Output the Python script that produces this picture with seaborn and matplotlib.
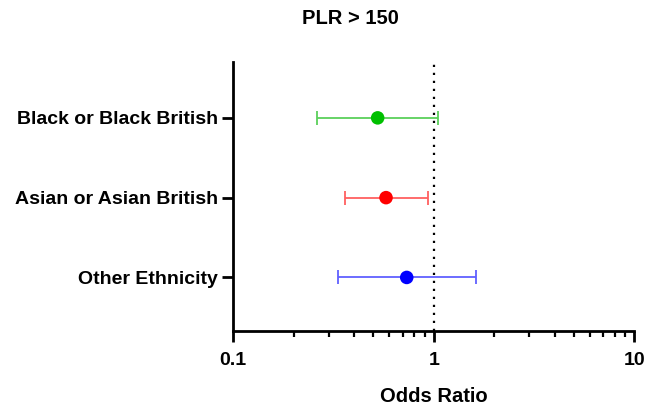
import matplotlib
matplotlib.use("Agg")
import matplotlib.pyplot as plt
import seaborn as sns
import pandas as pd
import numpy as np
from matplotlib.ticker import LogLocator, FixedLocator, NullFormatter

categories = ["Black or Black British", "Asian or Asian British", "Other Ethnicity"]
odds_ratio = [0.525, 0.578, 0.733]
ci_low = [0.262, 0.359, 0.333]
ci_high = [1.045, 0.933, 1.62]
point_colors = ["#00C000", "#FF0000", "#0000FF"]
bar_colors = ["#5BD05B", "#FF6060", "#6060FF"]
x_ticks = [0.1, 1, 10]
x_tick_labels = ["0.1", "1", "10"]

sns.set_theme(style="white")
plt.rcParams['font.family'] = ['Liberation Sans', 'DejaVu Sans']

df = pd.DataFrame({"cat": categories, "or": odds_ratio, "lo": ci_low, "hi": ci_high,
                   "pos": [2, 1, 0]})

fig = plt.figure(figsize=(6.46, 4.08), dpi=100)
ax = fig.add_axes([0.361, 0.189, 0.621, 0.659])

ax.axvline(1, color="black", linestyle=(0, (1, 2.6)), linewidth=1.6, zorder=1)

for i, row in df.iterrows():
    ax.errorbar(row["or"], row["pos"],
                xerr=[[row["or"] - row["lo"]], [row["hi"] - row["or"]]],
                fmt="none", ecolor=bar_colors[i], elinewidth=1.3, capsize=5,
                capthick=1.3, zorder=2)

sns.scatterplot(data=df, x="or", y="pos", hue="cat", palette=point_colors,
                s=95, edgecolor="none", legend=False, ax=ax, zorder=3)

ax.set_xscale("log")
ax.set_xlim(0.1, 10)
ax.set_ylim(-0.67, 2.7)
ax.xaxis.set_major_locator(FixedLocator(x_ticks))
ax.set_xticklabels(x_tick_labels)
ax.xaxis.set_minor_locator(LogLocator(base=10, subs=np.arange(2, 10)))
ax.xaxis.set_minor_formatter(NullFormatter())
ax.set_yticks(df["pos"])
ax.set_yticklabels(df["cat"])

for s in ["top", "right"]:
    ax.spines[s].set_visible(False)
for s in ["left", "bottom"]:
    ax.spines[s].set_color("black")
    ax.spines[s].set_linewidth(2)

ax.tick_params(axis="both", which="major", direction="out", length=8, width=2,
               color="black", labelsize=14, bottom=True, left=True)
ax.tick_params(axis="x", which="minor", direction="out", length=4.5, width=1.6,
               color="black", bottom=True)
for lab in ax.get_xticklabels() + ax.get_yticklabels():
    lab.set_fontweight("bold")
    lab.set_color("black")
ax.tick_params(axis="x", pad=7)
ax.tick_params(axis="y", pad=3)

ax.set_xlabel("Odds Ratio", fontsize=14.5, fontweight="bold", color="black", labelpad=13)
ax.set_ylabel("")
fig.text(350 / 646, 1 - 19 / 408, "PLR > 150", fontsize=14.5, fontweight="bold",
         color="black", ha="center", va="center")

fig.savefig("out.png", dpi=100)
